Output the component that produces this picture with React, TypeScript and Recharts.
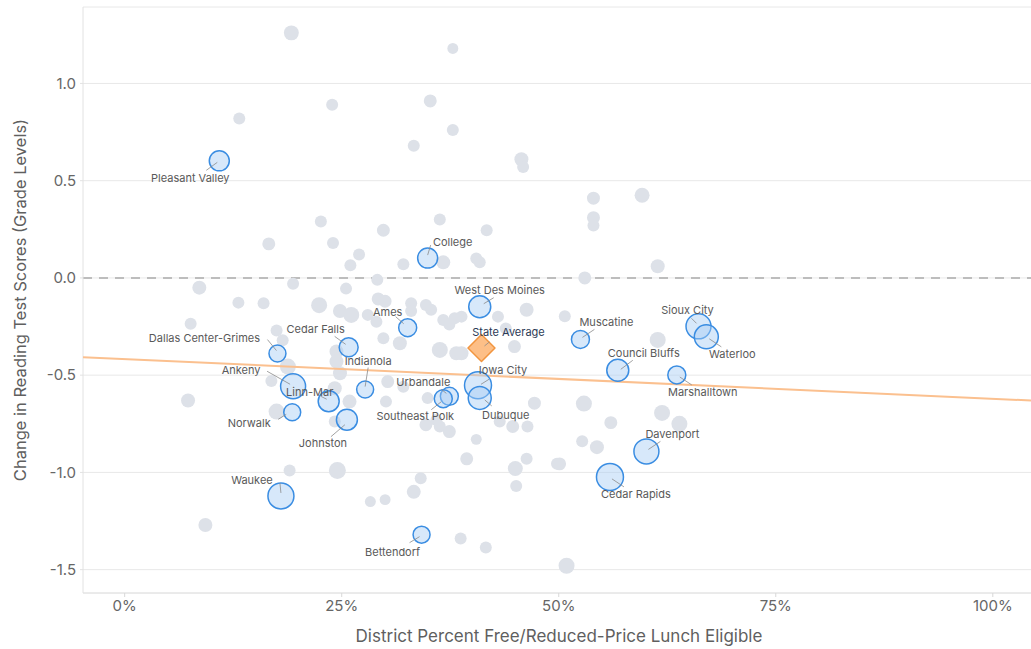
import { ScatterChart, Scatter, XAxis, YAxis, ZAxis, CartesianGrid, ReferenceLine, Label } from "recharts";

// x = district % free/reduced-price lunch, y = change in reading score (grade levels), z = bubble size
const otherDistricts = [
  { x: 19.2, y: 1.26, z: 56 }, { x: 37.8, y: 1.18, z: 30 }, { x: 13.2, y: 0.82, z: 36 },
  { x: 23.9, y: 0.89, z: 36 }, { x: 35.2, y: 0.91, z: 42 }, { x: 37.8, y: 0.76, z: 36 },
  { x: 33.3, y: 0.68, z: 36 }, { x: 45.7, y: 0.61, z: 49 }, { x: 45.9, y: 0.57, z: 36 },
  { x: 22.6, y: 0.29, z: 36 }, { x: 29.8, y: 0.245, z: 42 }, { x: 36.3, y: 0.3, z: 36 },
  { x: 41.7, y: 0.245, z: 36 }, { x: 16.6, y: 0.175, z: 42 }, { x: 24.0, y: 0.18, z: 36 },
  { x: 27.0, y: 0.12, z: 36 }, { x: 26.0, y: 0.065, z: 36 }, { x: 32.1, y: 0.07, z: 36 },
  { x: 36.7, y: 0.08, z: 49 }, { x: 40.5, y: 0.1, z: 36 }, { x: 40.9, y: 0.08, z: 36 },
  { x: 8.6, y: -0.05, z: 49 }, { x: 19.4, y: -0.03, z: 36 }, { x: 25.5, y: -0.055, z: 36 },
  { x: 29.1, y: -0.01, z: 36 }, { x: 54.0, y: 0.41, z: 42 }, { x: 59.6, y: 0.425, z: 56 },
  { x: 54.0, y: 0.31, z: 42 }, { x: 54.0, y: 0.27, z: 36 }, { x: 61.4, y: 0.06, z: 49 },
  { x: 53.0, y: 0.0, z: 42 }, { x: 13.1, y: -0.127, z: 36 }, { x: 16.0, y: -0.13, z: 36 },
  { x: 22.4, y: -0.14, z: 64 }, { x: 24.8, y: -0.17, z: 49 }, { x: 26.1, y: -0.19, z: 64 },
  { x: 28.0, y: -0.19, z: 36 }, { x: 29.2, y: -0.108, z: 42 }, { x: 30.0, y: -0.12, z: 42 },
  { x: 29.0, y: -0.225, z: 36 }, { x: 33.0, y: -0.13, z: 36 }, { x: 33.0, y: -0.17, z: 36 },
  { x: 29.8, y: -0.31, z: 36 }, { x: 31.7, y: -0.336, z: 49 }, { x: 24.4, y: -0.378, z: 49 },
  { x: 24.4, y: -0.43, z: 49 }, { x: 24.8, y: -0.49, z: 49 }, { x: 17.5, y: -0.27, z: 36 },
  { x: 18.2, y: -0.32, z: 36 }, { x: 18.8, y: -0.456, z: 64 }, { x: 16.9, y: -0.53, z: 36 },
  { x: 24.2, y: -0.567, z: 49 }, { x: 25.9, y: -0.636, z: 49 }, { x: 17.5, y: -0.687, z: 64 },
  { x: 24.2, y: -0.738, z: 36 }, { x: 30.3, y: -0.533, z: 42 }, { x: 30.1, y: -0.636, z: 36 },
  { x: 32.1, y: -0.56, z: 36 }, { x: 34.7, y: -0.139, z: 36 }, { x: 35.3, y: -0.164, z: 36 },
  { x: 36.7, y: -0.216, z: 36 }, { x: 37.4, y: -0.24, z: 36 }, { x: 38.0, y: -0.207, z: 36 },
  { x: 38.8, y: -0.199, z: 36 }, { x: 36.3, y: -0.37, z: 64 }, { x: 38.2, y: -0.387, z: 49 },
  { x: 38.8, y: -0.387, z: 49 }, { x: 44.9, y: -0.353, z: 42 }, { x: 46.3, y: -0.164, z: 49 },
  { x: 43.0, y: -0.199, z: 36 }, { x: 43.9, y: -0.26, z: 36 }, { x: 34.9, y: -0.618, z: 36 },
  { x: 34.7, y: -0.755, z: 42 }, { x: 35.9, y: -0.73, z: 36 }, { x: 36.3, y: -0.764, z: 36 },
  { x: 37.4, y: -0.79, z: 42 }, { x: 47.2, y: -0.644, z: 42 }, { x: 43.2, y: -0.738, z: 36 },
  { x: 44.7, y: -0.764, z: 42 }, { x: 46.4, y: -0.764, z: 36 }, { x: 40.5, y: -0.83, z: 30 },
  { x: 7.6, y: -0.236, z: 36 }, { x: 7.3, y: -0.63, z: 49 }, { x: 39.4, y: -0.93, z: 42 },
  { x: 46.3, y: -0.93, z: 36 }, { x: 45.0, y: -0.98, z: 56 }, { x: 45.1, y: -1.07, z: 36 },
  { x: 49.8, y: -0.956, z: 36 }, { x: 24.5, y: -0.99, z: 72 }, { x: 19.0, y: -0.99, z: 36 },
  { x: 34.1, y: -1.03, z: 36 }, { x: 33.3, y: -1.1, z: 49 }, { x: 28.3, y: -1.15, z: 30 },
  { x: 30.0, y: -1.14, z: 30 }, { x: 9.3, y: -1.27, z: 49 }, { x: 38.7, y: -1.34, z: 36 },
  { x: 41.6, y: -1.386, z: 36 }, { x: 50.7, y: -0.197, z: 36 }, { x: 61.4, y: -0.319, z: 64 },
  { x: 52.9, y: -0.646, z: 64 }, { x: 61.9, y: -0.694, z: 64 }, { x: 56.0, y: -0.744, z: 42 },
  { x: 63.9, y: -0.75, z: 64 }, { x: 52.7, y: -0.84, z: 36 }, { x: 54.4, y: -0.87, z: 49 },
  { x: 50.1, y: -0.956, z: 42 }, { x: 50.9, y: -1.48, z: 64 },
];

const namedDistricts = [
  { name: "Pleasant Valley", x: 10.9, y: 0.602, z: 100 },
  { name: "College", x: 34.9, y: 0.102, z: 100 },
  { name: "West Des Moines", x: 40.9, y: -0.148, z: 121 },
  { name: "Ames", x: 32.6, y: -0.256, z: 81 },
  { name: "Cedar Falls", x: 25.8, y: -0.357, z: 90 },
  { name: "Dallas Center-Grimes", x: 17.6, y: -0.389, z: 72 },
  { name: "Indianola", x: 27.7, y: -0.574, z: 72 },
  { name: "Ankeny", x: 19.4, y: -0.557, z: 156 },
  { name: "Linn-Mar", x: 23.5, y: -0.634, z: 110 },
  { name: "Norwalk", x: 19.3, y: -0.691, z: 72 },
  { name: "Johnston", x: 25.6, y: -0.729, z: 110 },
  { name: "Urbandale", x: 37.4, y: -0.609, z: 81 },
  { name: "Southeast Polk", x: 36.7, y: -0.621, z: 81 },
  { name: "Iowa City", x: 40.7, y: -0.552, z: 182 },
  { name: "Dubuque", x: 40.9, y: -0.617, z: 132 },
  { name: "Muscatine", x: 52.5, y: -0.316, z: 81 },
  { name: "Sioux City", x: 66.1, y: -0.249, z: 156 },
  { name: "Waterloo", x: 67.0, y: -0.303, z: 144 },
  { name: "Council Bluffs", x: 56.8, y: -0.475, z: 121 },
  { name: "Marshalltown", x: 63.6, y: -0.499, z: 81 },
  { name: "Davenport", x: 60.1, y: -0.892, z: 156 },
  { name: "Cedar Rapids", x: 55.9, y: -1.023, z: 182 },
  { name: "Waukee", x: 18.0, y: -1.121, z: 169 },
  { name: "Bettendorf", x: 34.2, y: -1.32, z: 72 },
];

const stateAverage = [{ name: "State Average", x: 41.1, y: -0.36, z: 100 }];

const trendLine = [
  { x: -4.8, y: -0.4075 },
  { x: 104.4, y: -0.6305 },
];

const xTicks = [0, 25, 50, 75, 100];
const yTicks = [-1.5, -1.0, -0.5, 0, 0.5, 1.0];

// label placement relative to bubble centre: text centre, then leader line from/to
const labelPlacement: Record<string, number[]> = {
  "Pleasant Valley": [-29, 17, -2, 1.5, -13, 9.5],
  College: [25, -16.5, 0, -3, 3, -13],
  "West Des Moines": [20, -17, 4, -3, 14, -9],
  Ames: [-20, -16, -4, -4, -12, -11],
  "Cedar Falls": [-33, -18, -3, -3, -14, -11],
  "Dallas Center-Grimes": [-73, -16, -1, -3, -10, -14],
  Indianola: [3, -29, 0, -3, 3, -22],
  Ankeny: [-52, -16, -3, -2, -26, -15],
  "Linn-Mar": [-19, -9, -2, -2, -8, -5],
  Norwalk: [-43, 11, -6, 2, -14, 7],
  Johnston: [-24, 23, -2, 5, -16, 17],
  Urbandale: [-26, -14, -3, -3, -8, -7],
  "Southeast Polk": [-28, 17, -2, 3, -12, 11],
  "State Average": [27, -16, 3, -2, 8, -6],
  "Iowa City": [25, -15, 3, -1, 11, -6],
  Dubuque: [26, 17, 5, 2, 12, 8],
  Muscatine: [26, -17, 2, -2, 14, -10],
  "Sioux City": [-11, -16, -2, -3, -7, -8],
  Waterloo: [26, 17, 3, 2, 15, 10],
  "Council Bluffs": [26, -17, 3, -1, 15, -10],
  Marshalltown: [26, 17, 3, 2, 15, 10],
  Davenport: [26, -17, 2, -2, 14, -10],
  "Cedar Rapids": [26, 17, 2, 2, 14, 10],
  Waukee: [-29, -16, 0, -3, -1, -13],
  Bettendorf: [-29, 17, -2, 2, -12, 8],
};

const radiusOf = (p: any) => (p.size ? Math.sqrt(p.size / Math.PI) : (p.width || 20) / 2);

const BlueBubble = (props: any) => (
  <circle cx={props.cx} cy={props.cy} r={radiusOf(props)} fill="#a6cdf3" fillOpacity={0.45} stroke="#3a8de2" strokeWidth={1.5} />
);

const Diamond = (props: any) => {
  const { cx, cy } = props;
  const h = 13.5;
  return (
    <polygon
      points={`${cx},${cy - h} ${cx + h},${cy} ${cx},${cy + h} ${cx - h},${cy}`}
      fill="#fdbf87"
      stroke="#f2953f"
      strokeWidth={1.5}
      strokeLinejoin="round"
    />
  );
};

const NameLabel = (props: any) => {
  const { cx, cy, payload } = props;
  const p = labelPlacement[payload.name];
  if (!p) return <g />;
  const isAvg = payload.name === "State Average";
  return (
    <g>
      <line x1={cx + p[2]} y1={cy + p[3]} x2={cx + p[4]} y2={cy + p[5]} stroke="#8a8a8a" strokeWidth={0.8} />
      <text
        x={cx + p[0]}
        y={cy + p[1]}
        textAnchor="middle"
        dominantBaseline="central"
        fontSize={11}
        fill={isAvg ? "#2c3a56" : "#595959"}
      >
        {payload.name}
      </text>
    </g>
  );
};

export default function App() {
  return (
    <div
      style={{
        position: "absolute",
        left: 0,
        top: 0,
        width: 1031,
        height: 649,
        overflow: "hidden",
        background: "#fff",
        fontFamily: "Inter, sans-serif",
      }}
    >
      <ScatterChart width={1031} height={649} margin={{ top: 7, right: 0, bottom: 0, left: 0 }}>
        <CartesianGrid vertical={false} stroke="#e8e8e8" />
        <XAxis
          type="number"
          dataKey="x"
          domain={[-4.8, 104.4]}
          ticks={xTicks}
          allowDataOverflow
          tickFormatter={(v: number) => `${v}%`}
          height={56}
          axisLine={{ stroke: "#e2e2e2" }}
          tickLine={{ stroke: "#d8d8d8" }}
          tickSize={4}
          tickMargin={3}
          tick={{ fill: "#666", fontSize: 15 }}
        >
          <Label
            content={() => (
              <text x={559} y={636} textAnchor="middle" dominantBaseline="central" fontSize={17} fill="#5f5f5f">
                District Percent Free/Reduced-Price Lunch Eligible
              </text>
            )}
          />
        </XAxis>
        <YAxis
          type="number"
          dataKey="y"
          domain={[-1.62, 1.393]}
          ticks={yTicks}
          allowDataOverflow
          tickFormatter={(v: number) => v.toFixed(1)}
          width={83}
          axisLine={{ stroke: "#e2e2e2" }}
          tickLine={{ stroke: "#e2e2e2" }}
          tickSize={3}
          tickMargin={4}
          tick={{ fill: "#666", fontSize: 15 }}
        >
          <Label
            content={() => (
              <text
                x={20}
                y={300}
                transform="rotate(-90 20 300)"
                textAnchor="middle"
                dominantBaseline="central"
                fontSize={16.5}
                fill="#5f5f5f"
              >
                Change in Reading Test Scores (Grade Levels)
              </text>
            )}
          />
        </YAxis>
        <ZAxis type="number" dataKey="z" domain={[0, 200]} range={[0, 200 * Math.PI]} />
        <ReferenceLine y={0} stroke="#bdbdbd" strokeWidth={2} strokeDasharray="9 7" />
        <Scatter data={otherDistricts} fill="#dde1e8" isAnimationActive={false} />
        <Scatter
          data={trendLine}
          line={{ stroke: "#fbc08f", strokeWidth: 2 }}
          shape={() => <g />}
          isAnimationActive={false}
        />
        <Scatter data={namedDistricts} shape={BlueBubble} isAnimationActive={false} />
        <Scatter data={stateAverage} shape={Diamond} isAnimationActive={false} />
        <Scatter data={[...namedDistricts, ...stateAverage]} shape={NameLabel} isAnimationActive={false} />
      </ScatterChart>
    </div>
  );
}
